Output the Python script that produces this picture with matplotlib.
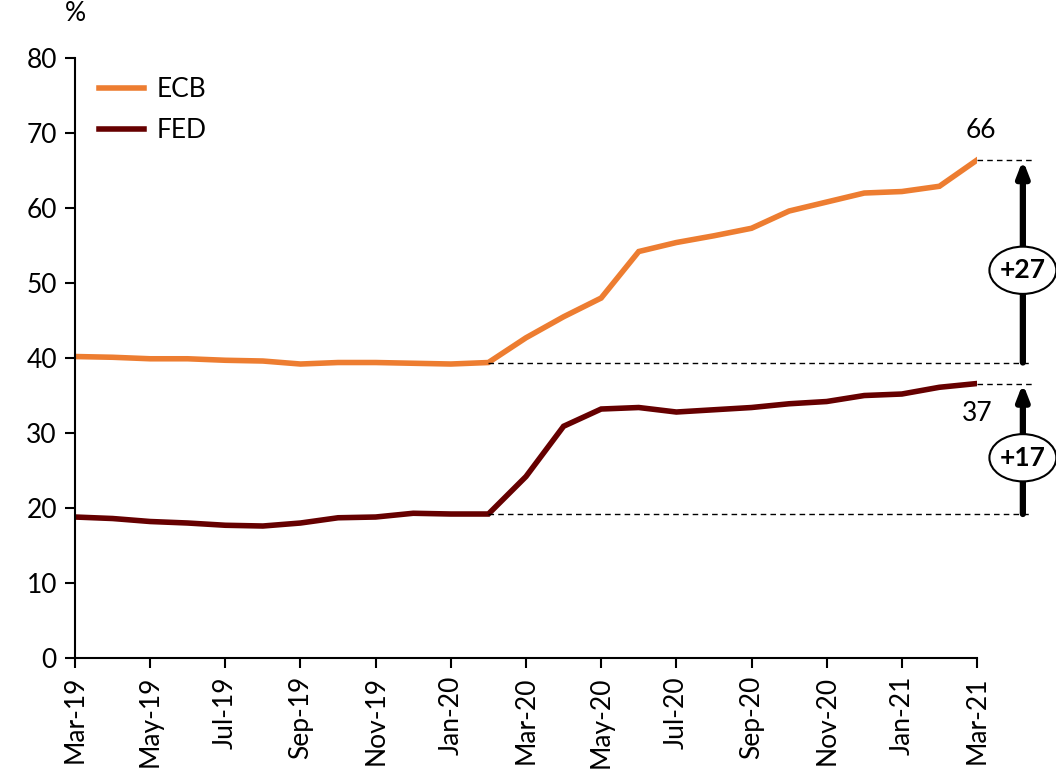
import matplotlib.pyplot as plt
from matplotlib.patches import Ellipse

plt.rcParams['font.family'] = ['Lato', 'DejaVu Sans']

# monthly, Mar-19 .. Mar-21
months = ['Mar-19', 'Apr-19', 'May-19', 'Jun-19', 'Jul-19', 'Aug-19', 'Sep-19',
          'Oct-19', 'Nov-19', 'Dec-19', 'Jan-20', 'Feb-20', 'Mar-20', 'Apr-20',
          'May-20', 'Jun-20', 'Jul-20', 'Aug-20', 'Sep-20', 'Oct-20', 'Nov-20',
          'Dec-20', 'Jan-21', 'Feb-21', 'Mar-21']
ecb = [40.2, 40.1, 39.9, 39.9, 39.7, 39.6, 39.2, 39.4, 39.4, 39.3, 39.2, 39.4,
       42.7, 45.5, 48.0, 54.2, 55.4, 56.3, 57.3, 59.6, 60.8, 62.0, 62.2, 62.9, 66.4]
fed = [18.8, 18.6, 18.2, 18.0, 17.7, 17.6, 18.0, 18.7, 18.8, 19.3, 19.2, 19.2,
       24.2, 30.9, 33.2, 33.4, 32.8, 33.1, 33.4, 33.9, 34.2, 35.0, 35.2, 36.1, 36.6]

base_idx = 11  # Feb-20, before the pandemic programmes
ecb_gain = '+27'
fed_gain = '+17'

x = list(range(len(months)))

fig = plt.figure(figsize=(10.56, 7.8), dpi=100)
ax = fig.add_axes([0.071, 0.1564, 0.8542, 0.7692])

ax.plot(x, ecb, color='#ED7D31', lw=4, label='ECB', solid_joinstyle='miter')
ax.plot(x, fed, color='#660000', lw=4, label='FED', solid_joinstyle='miter')

ax.set_xlim(0, 24)
ax.set_ylim(0, 80)
ax.set_yticks(range(0, 81, 10))
ax.set_xticks(x[::2])
ax.set_xticklabels(months[::2], rotation=90)
ax.tick_params(labelsize=19, direction='out', length=7, width=1.5, pad=6)
for s in ['top', 'right']:
    ax.spines[s].set_visible(False)
for s in ['left', 'bottom']:
    ax.spines[s].set_linewidth(1.5)

ax.text(0, 85.9, '%', fontsize=19, ha='center', va='center')

leg = ax.legend(loc='upper left', bbox_to_anchor=(0.0, 1.008), frameon=False,
                fontsize=19, handlelength=1.7, handletextpad=0.5, labelspacing=0.6)

# dashed guide lines
x_end = 25.46
for y0, x0 in [(ecb[base_idx], base_idx), (fed[base_idx], base_idx),
               (ecb[-1], x[-1]), (fed[-1], x[-1])]:
    ax.plot([x0, x_end], [y0, y0], color='black', lw=1, ls=(0, (4, 3)), clip_on=False)

# arrows with change labels
x_arr = 25.22
for lo, hi, lab in [(ecb[base_idx], ecb[-1], ecb_gain), (fed[base_idx], fed[-1], fed_gain)]:
    ax.annotate('', xy=(x_arr, hi), xytext=(x_arr, lo), annotation_clip=False,
                arrowprops=dict(arrowstyle='-|>,head_length=0.9,head_width=0.35',
                                lw=4.5, color='black', shrinkA=0, shrinkB=0))
    yc = (lo + hi) / 2 - 1.2
    ax.add_patch(Ellipse((x_arr, yc), 1.78, 6.3, facecolor='white', edgecolor='black',
                         lw=1.5, clip_on=False, zorder=5))
    ax.text(x_arr, yc, lab, fontsize=19, fontweight='bold', ha='center', va='center', zorder=6)

ax.text(x[-1] + 0.1, ecb[-1] + 2.3, f'{ecb[-1]:.0f}', fontsize=19, ha='center', va='bottom')
ax.text(x[-1], fed[-1] - 2.3, f'{fed[-1]:.0f}', fontsize=19, ha='center', va='top')

fig.savefig('out.png', dpi=100)
